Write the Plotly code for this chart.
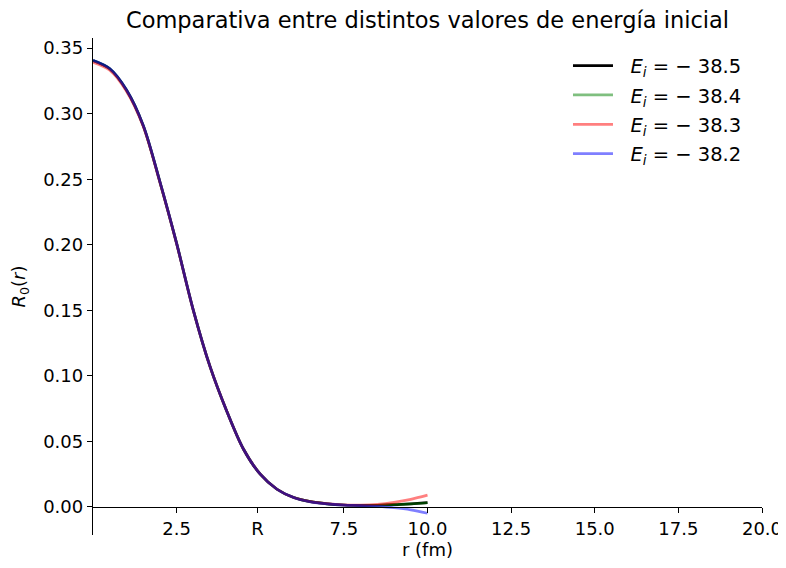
import plotly.graph_objects as go

# radial grid (fm)
r = [0.0, 0.5, 1.0, 1.5, 2.0, 2.5, 3.0, 3.5, 4.0, 4.5, 5.0, 5.5, 6.0, 6.5,
     7.0, 7.5, 8.0, 8.5, 9.0, 9.5, 10.0]

# R_0(r) for each initial energy
R_m385 = [0.3405, 0.3342, 0.3180, 0.2910, 0.2480, 0.2010, 0.1500, 0.1070,
          0.0730, 0.0440, 0.0250, 0.0135, 0.0072, 0.0040, 0.0024, 0.0015,
          0.0012, 0.0013, 0.0017, 0.0024, 0.0033]
R_m384 = [0.3405, 0.3342, 0.3180, 0.2910, 0.2480, 0.2010, 0.1500, 0.1070,
          0.0730, 0.0440, 0.0250, 0.0135, 0.0072, 0.0040, 0.0024, 0.0015,
          0.0012, 0.0013, 0.0017, 0.0023, 0.0032]
R_m383 = [0.3392, 0.3331, 0.3171, 0.2903, 0.2475, 0.2007, 0.1498, 0.1069,
          0.0730, 0.0440, 0.0250, 0.0135, 0.0072, 0.0041, 0.0025, 0.0016,
          0.0014, 0.0020, 0.0035, 0.0058, 0.0090]
R_m382 = [0.3407, 0.3344, 0.3182, 0.2911, 0.2481, 0.2010, 0.1500, 0.1070,
          0.0730, 0.0440, 0.0250, 0.0135, 0.0072, 0.0039, 0.0023, 0.0014,
          0.0010, 0.0004, -0.0006, -0.0022, -0.0048]

labels = ["38.5", "38.4", "38.3", "38.2"]
series = [R_m385, R_m384, R_m383, R_m382]
colors = ["rgb(0,0,0)", "rgba(0,128,0,0.5)", "rgba(255,0,0,0.5)", "rgba(0,0,255,0.5)"]

R_nuc = 4.92
x_tickvals = [2.5, R_nuc, 7.5, 10.0, 12.5, 15.0, 17.5, 20.0]
x_ticktext = ["2.5", "R", "7.5", "10.0", "12.5", "15.0", "17.5", "20.0"]
y_tickvals = [0.0, 0.05, 0.10, 0.15, 0.20, 0.25, 0.30, 0.35]

FONT = "DejaVu Sans"

fig = go.Figure()
for i, (lab, ys, col) in enumerate(zip(labels, series, colors)):
    fig.add_trace(go.Scatter(
        x=r, y=ys, mode="lines",
        line=dict(color=col, width=2.7, shape="spline", smoothing=0.9),
        name="\u00a0\u00a0<i>E</i><sub><i>i</i></sub> = \u2212 " + lab,
        legendgroup=str(i),
    ))

ymin, ymax = -0.0214, 0.3577
W, H = 778, 552  # page body adds an 8px offset
fig.update_layout(
    width=W, height=H,
    margin=dict(l=85, r=24, t=30, b=25),
    paper_bgcolor="white", plot_bgcolor="white",
    font=dict(family=FONT, size=18, color="black"),
    title=dict(text="Comparativa entre distintos valores de energía inicial",
               x=0.5, xref="paper", xanchor="center",
               y=1 - 4 / H, yref="container", yanchor="top",
               font=dict(size=22.5, family=FONT, color="black")),
    xaxis=dict(range=[0, 20], anchor="free", position=-ymin / (ymax - ymin),
               automargin=False, ticklabeloverflow="allow",
               tickmode="array", tickvals=x_tickvals, ticktext=x_ticktext,
               showline=True, linecolor="black", linewidth=1.3,
               ticks="outside", ticklen=5, tickwidth=1.3, tickcolor="black",
               showgrid=False, zeroline=False,
               title=dict(text="r (fm)", standoff=0, font=dict(size=18))),
    yaxis=dict(range=[ymin, ymax], tickmode="array", tickvals=y_tickvals,
               tickformat=".2f", automargin=False,
               showline=True, linecolor="black", linewidth=1.3,
               ticks="outside", ticklen=5, tickwidth=1.3, tickcolor="black",
               showgrid=False, zeroline=False,
               title=dict(text="<i>R</i><sub>0</sub>(<i>r</i>)", standoff=14,
                          font=dict(size=18))),
    legend=dict(x=0.71, y=0.983, xanchor="left", yanchor="top",
                bgcolor="rgba(0,0,0,0)", font=dict(size=19.5, family=FONT),
                tracegroupgap=1, traceorder="grouped", itemwidth=40),
)

fig.write_html("out.html")
